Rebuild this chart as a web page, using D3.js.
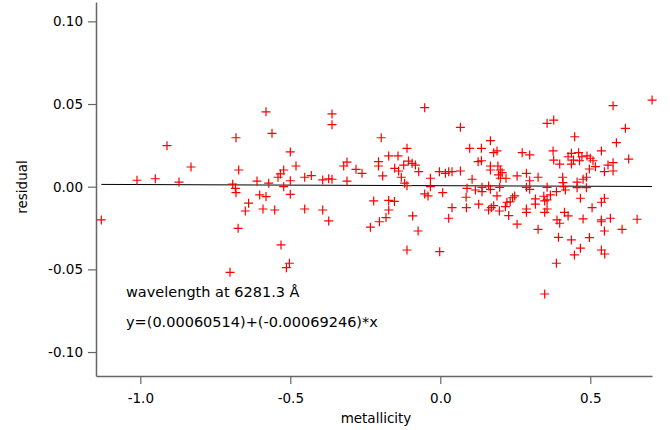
<!DOCTYPE html>
<html>
<head>
<meta charset="utf-8">
<script src="https://cdn.jsdelivr.net/npm/d3@7"></script>
<style>
  html, body { margin: 0; padding: 0; background: #fff; }
  svg { display: block; }
  text { font-family: "DejaVu Sans", sans-serif; fill: #000; }
</style>
</head>
<body>
<svg id="chart" width="670" height="430"></svg>
<script>
// ---- data ----
const metallicity = [
  -1.130, -1.011, -0.950, -0.911, -0.871, -0.831, -0.681, -0.672, -0.692, -0.683,
  -0.681, -0.674, -0.701, -0.581, -0.561, -0.500, -0.481, -0.522, -0.533, -0.541,
  -0.611, -0.572, -0.522, -0.500, -0.602, -0.581, -0.500, -0.452, -0.430, -0.392,
  -0.372, -0.361, -0.361, -0.361, -0.311, -0.322, -0.281, -0.261, -0.311, -0.206,
  -0.206, -0.197, -0.222, -0.639, -0.650, -0.591, -0.552, -0.452, -0.392, -0.372,
  -0.531, -0.503, -0.513, -0.233, -0.203, -0.052, 0.067, 0.167, -0.111, 0.098,
  0.137, 0.178, 0.189, -0.172, -0.141, -0.106, -0.094, -0.083, -0.122, -0.152,
  -0.139, -0.130, -0.192, -0.072, -0.119, -0.111, -0.033, -0.003, 0.017, 0.028,
  0.039, 0.067, -0.033, 0.106, 0.126, 0.137, 0.167, 0.167, 0.192, 0.200,
  0.206, 0.194, 0.200, 0.219, 0.256, 0.273, 0.089, 0.117, 0.139, 0.139,
  0.161, 0.167, 0.198, -0.052, -0.041, 0.008, 0.086, 0.189, 0.248, -0.172,
  -0.153, -0.172, -0.181, -0.092, -0.074, -0.111, -0.002, 0.039, 0.028, 0.087,
  0.128, 0.161, 0.170, 0.178, 0.197, 0.217, 0.222, 0.233, 0.241, 0.228,
  0.256, 0.706, 0.576, 0.356, 0.378, 0.617, 0.448, 0.587, 0.298, 0.376,
  0.537, 0.426, 0.437, 0.461, 0.472, 0.489, 0.500, 0.444, 0.464, 0.378,
  0.398, 0.437, 0.509, 0.628, 0.559, 0.576, 0.497, 0.517, 0.547, 0.576,
  0.287, 0.298, 0.326, 0.408, 0.409, 0.456, 0.476, 0.487, 0.287, 0.298,
  0.356, 0.411, 0.417, 0.456, 0.487, 0.317, 0.345, 0.367, 0.387, 0.467,
  0.547, 0.317, 0.348, 0.356, 0.287, 0.287, 0.356, 0.348, 0.537, 0.506,
  0.414, 0.426, 0.389, 0.398, 0.476, 0.537, 0.537, 0.567, 0.656, 0.326,
  0.606, 0.547, 0.394, 0.437, 0.497, 0.467, 0.537, 0.548, 0.447, 0.387,
  0.348
];
const residual = [
  -0.0201, 0.0039, 0.0048, 0.0248, 0.0028, 0.0119, 0.0296, 0.0101, 0.0015, -0.0010,
  -0.0036, -0.0252, -0.0518, 0.0453, 0.0323, 0.0210, 0.0125, 0.0101, 0.0077, 0.0057,
  0.0034, 0.0021, 0.0000, 0.0036, -0.0050, -0.0060, -0.0046, 0.0057, 0.0067, 0.0041,
  0.0048, 0.0045, 0.0440, 0.0375, 0.0149, 0.0125, 0.0105, 0.0081, 0.0034, 0.0151,
  0.0125, 0.0296, -0.0086, -0.0100, -0.0147, -0.0135, -0.0141, -0.0135, -0.0141, -0.0207,
  -0.0352, -0.0463, -0.0490, -0.0245, -0.0212, 0.0478, 0.0359, 0.0278, 0.0232, 0.0232,
  0.0232, 0.0206, 0.0216, 0.0186, 0.0186, 0.0155, 0.0141, 0.0131, 0.0131, 0.0111,
  0.0095, 0.0057, 0.0065, 0.0091, 0.0021, 0.0006, 0.0051, 0.0091, 0.0081, 0.0091,
  0.0091, 0.0095, 0.0000, 0.0045, 0.0151, 0.0157, 0.0125, 0.0101, 0.0125, 0.0101,
  0.0085, 0.0071, 0.0051, 0.0051, 0.0065, 0.0206, -0.0010, -0.0020, -0.0004, -0.0030,
  0.0004, -0.0016, -0.0004, -0.0044, -0.0056, -0.0036, -0.0064, -0.0056, -0.0056, -0.0083,
  -0.0089, -0.0141, -0.0187, -0.0177, -0.0268, -0.0383, -0.0393, -0.0127, -0.0191, -0.0127,
  -0.0106, -0.0141, -0.0127, -0.0115, -0.0147, -0.0121, -0.0094, -0.0091, -0.0067, -0.0175,
  -0.0227, 0.0524, 0.0490, 0.0383, 0.0403, 0.0353, 0.0302, 0.0266, 0.0192, 0.0216,
  0.0216, 0.0181, 0.0202, 0.0206, 0.0181, 0.0186, 0.0172, 0.0161, 0.0157, 0.0161,
  0.0137, 0.0137, 0.0157, 0.0167, 0.0131, 0.0145, 0.0107, 0.0121, 0.0091, 0.0095,
  0.0081, 0.0036, 0.0057, 0.0057, 0.0024, 0.0028, 0.0045, 0.0057, -0.0004, -0.0016,
  -0.0004, 0.0000, -0.0020, -0.0006, -0.0006, -0.0074, -0.0058, -0.0050, -0.0030, -0.0070,
  -0.0070, -0.0106, -0.0086, -0.0080, -0.0135, -0.0155, -0.0135, -0.0155, -0.0094, -0.0127,
  -0.0155, -0.0177, -0.0201, -0.0221, -0.0195, -0.0201, -0.0212, -0.0191, -0.0197, -0.0258,
  -0.0258, -0.0268, -0.0306, -0.0322, -0.0308, -0.0372, -0.0383, -0.0407, -0.0413, -0.0463,
  -0.0649
];
const fitIntercept = 0.00060514;
const fitSlope = -0.00069246;
const xTicks = [-1.0, -0.5, 0.0, 0.5];
const yTicks = [-0.10, -0.05, 0.00, 0.05, 0.10];
const xLabel = "metallicity";
const yLabel = "residual";
const noteLines = ["wavelength at 6281.3 Å", "y=(0.00060514)+(-0.00069246)*x"];

// ---- layout ----
const svg = d3.select("#chart");
const L = 96, R = 652, T = 2, B = 376;

const x = d3.scaleLinear().domain([-1.1477, 0.7057]).range([L, R]);
const y = d3.scaleLinear().domain([-0.1145, 0.1117]).range([B, T]);

const axisColor = "#666";

// Fit line (spans the data extent)
const xr = d3.extent(metallicity);
const fitLine = d3.line().x(d => x(d)).y(d => y(fitIntercept + fitSlope * d));
svg.append("path")
  .datum(xr)
  .attr("d", fitLine)
  .attr("fill", "none")
  .attr("stroke", "#000")
  .attr("stroke-width", 1);

// Points as red plus signs
const pts = metallicity.map((m, i) => [m, residual[i]]);
svg.append("g").selectAll("path")
  .data(pts)
  .join("path")
  .attr("transform", d => `translate(${x(d[0]).toFixed(2)},${y(d[1]).toFixed(2)})`)
  .attr("d", "M-4.5,0H4.5M0,-4.5V4.5")
  .attr("fill", "none")
  .attr("stroke", "#ff0000")
  .attr("stroke-width", 1.2);

// Axes
const xAxis = d3.axisBottom(x)
  .tickValues(xTicks)
  .tickFormat(d => d.toFixed(1))
  .tickSize(8).tickSizeOuter(0).tickPadding(9);
const gx = svg.append("g").attr("transform", `translate(0,${B})`).call(xAxis);

const yAxis = d3.axisLeft(y)
  .tickValues(yTicks)
  .tickFormat(d => d.toFixed(2))
  .tickSize(8).tickSizeOuter(0).tickPadding(5);
const gy = svg.append("g").attr("transform", `translate(${L},0)`).call(yAxis);

[gx, gy].forEach(g => {
  g.select(".domain").attr("stroke", axisColor).attr("stroke-width", 1.5);
  g.selectAll(".tick line").attr("stroke", axisColor).attr("stroke-width", 1.2);
  g.selectAll(".tick text")
    .attr("fill", "#000")
    .style("font-family", '"DejaVu Sans", sans-serif')
    .style("font-size", "13.5px");
});

// Axis labels
svg.append("text")
  .attr("x", 376).attr("y", 423)
  .attr("text-anchor", "middle")
  .style("font-size", "13.5px")
  .text(xLabel);

svg.append("text")
  .attr("transform", "translate(26.5,187) rotate(-90)")
  .attr("text-anchor", "middle")
  .style("font-size", "13.5px")
  .text(yLabel);

// Annotation
svg.selectAll("text.note")
  .data(noteLines)
  .join("text")
  .attr("class", "note")
  .attr("x", 126)
  .attr("y", (d, i) => 297 + i * 30)
  .style("font-size", "14.5px")
  .text(d => d);
</script>
</body>
</html>
